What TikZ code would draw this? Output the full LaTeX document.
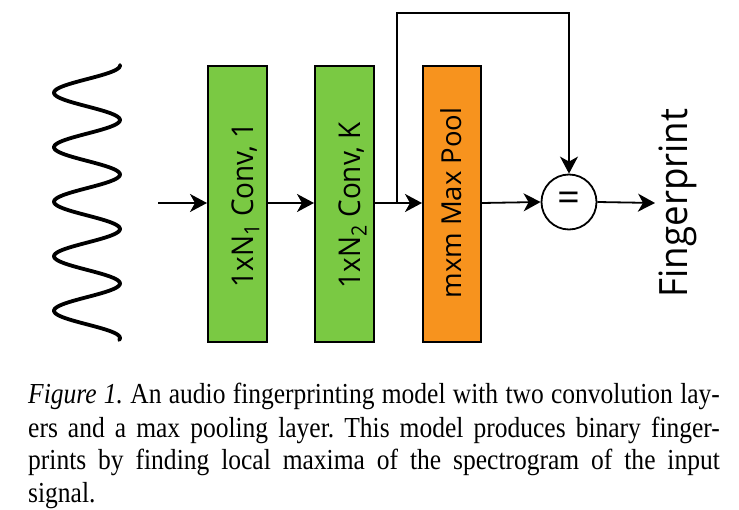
\documentclass[tikz,border=0pt]{standalone}
\usepackage{fontspec}
\setmainfont{Liberation Serif}
\newfontfamily\diagfont{Open Sans}
\usetikzlibrary{arrows.meta,calc}
\definecolor{boxgreen}{RGB}{122,201,67}
\definecolor{boxorange}{RGB}{247,147,30}
\begin{document}
\begin{tikzpicture}[x=1pt,y=-1pt,
  layer/.style={draw=black,line width=2pt,minimum width=59pt,minimum height=276pt,anchor=north west,inner sep=0pt},
  conn/.style={line width=1.8pt,-{Stealth[length=17pt,width=18pt,inset=5pt]}},
  lbl/.style={font=\diagfont\fontsize{30}{32}\selectfont,rotate=90,anchor=base,inner sep=0pt}]
\useasboundingbox (0,0) rectangle (739,510);
% wave
\draw[line width=3.8pt,line cap=round] plot[domain=65:340,samples=240,smooth] ({87+33*cos((\x-120)/54.5*360)},\x);
% layers
\node[layer,fill=boxgreen] (b1) at (207,65) {};
\node[layer,fill=boxgreen] (b2) at (314,65) {};
\node[layer,fill=boxorange,minimum width=58pt] (b3) at (422,65) {};
\node[lbl] (t1) at (253,205) {\scalebox{0.93}[1]{1xN\textsubscript{1} Conv, 1}};
\node[lbl] (t2) at (360,205) {\scalebox{0.93}[1]{1xN\textsubscript{2} Conv, K}};
\node[lbl,font=\diagfont\fontsize{27.5}{30}\selectfont] (t3) at (461,203) {mxm Max Pool};
% merge circle
\node[draw=black,line width=1.8pt,circle,minimum size=55pt,inner sep=0pt,fill=white,font=\diagfont\fontsize{40}{40}\selectfont] (eq) at (569,202) {=};
\node[font=\diagfont\fontsize{39}{40}\selectfont,rotate=90,anchor=base,inner sep=0pt] (fp) at (687,203) {\scalebox{0.94}[1]{Fingerprint}};
% connectors
\coordinate (in) at (158,203);
\coordinate (split) at (397,203);
\coordinate (top) at (397,13);
\coordinate (out) at (655,203);
\draw[conn] (in) -- (b1.west|-in);
\draw[conn] (b1.east|-in) -- (b2.west|-in);
\draw[line width=1.8pt] (b2.east|-in) -- (split);
\draw[conn] (split) -- (b3.west|-in);
\draw[conn] (split) -- (top) -| (eq.north);
\draw[conn] (b3.east|-in) -- (eq.west);
\draw[conn] (eq.east) -- (out);
% caption
\node[anchor=base west,inner sep=0pt,font=\fontsize{29}{33}\selectfont] (cap) at (28,404)
{\scalebox{0.88}[1]{\parbox[t]{786pt}{\frenchspacing\textit{Figure 1.} An audio fingerprinting model with two convolution lay-\linebreak
ers and a max pooling layer. This model produces binary finger-\linebreak
prints by finding local maxima of the spectrogram of the input\linebreak
signal.}}};
\end{tikzpicture}
\end{document}
